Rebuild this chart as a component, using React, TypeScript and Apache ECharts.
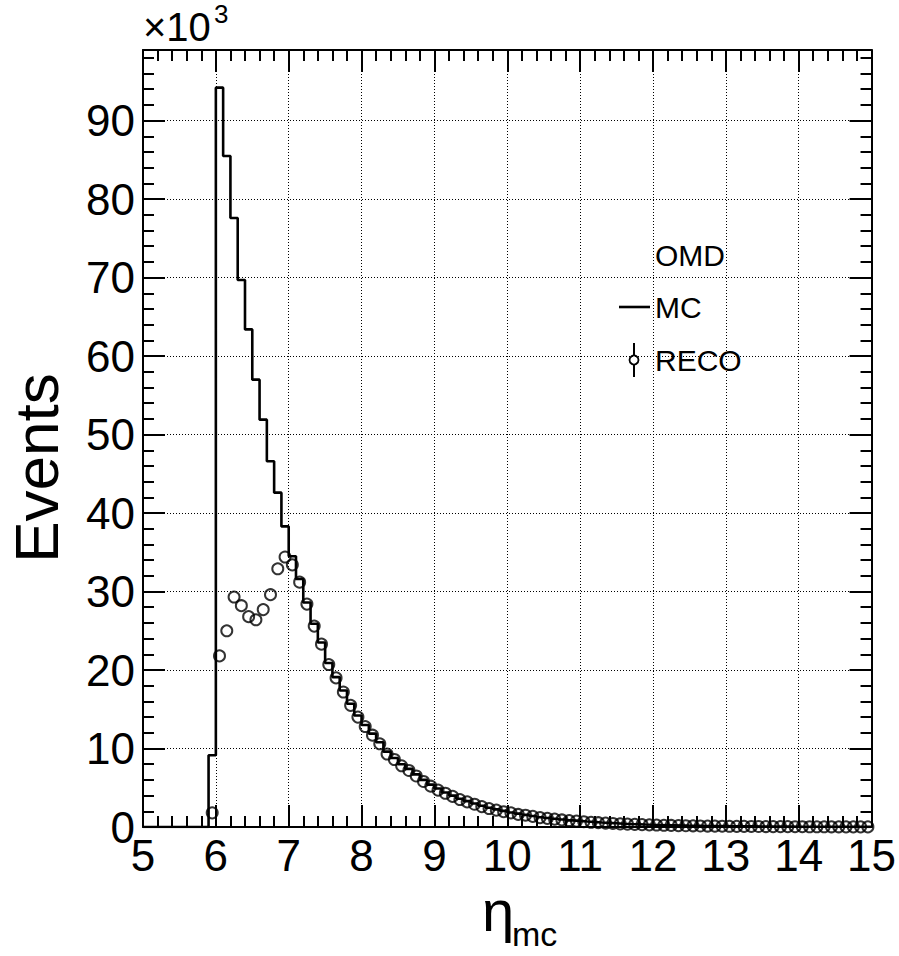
import React, { useEffect, useRef } from "react";
import * as echarts from "echarts";

// Histogram binning (eta_mc), bins of 0.1 starting at 5.9
const binStart = 5.9;
const binWidth = 0.1;

// MC histogram contents (in thousands of events)
const mcCounts = [
  9.15, 94.2, 85.5, 77.6, 69.7, 63.4, 57.0, 51.9, 46.6, 42.6,
  38.3, 34.5, 31.6, 28.6, 25.9, 23.5, 20.9, 19.1, 17.4, 15.7,
  14.2, 13.0, 11.9, 10.8, 9.6, 8.8, 8.0, 7.4, 6.7, 6.0,
  5.4, 4.9, 4.4, 4.0, 3.6, 3.3, 3.0, 2.7, 2.45, 2.25,
  2.05, 1.85, 1.7, 1.55, 1.4, 1.25, 1.15, 1.05, 0.95, 0.85,
  0.78, 0.7, 0.63, 0.57, 0.52, 0.47, 0.42, 0.38, 0.35, 0.31,
  0.28, 0.26, 0.23, 0.21, 0.19, 0.17, 0.16, 0.14, 0.13, 0.12,
  0.11, 0.10, 0.09, 0.08, 0.075, 0.07, 0.06, 0.055, 0.05, 0.045,
  0.04, 0.037, 0.034, 0.031, 0.028, 0.025, 0.023, 0.021, 0.019, 0.017,
  0.015,
];

// RECO histogram contents (in thousands of events)
const recoCounts = [
  1.8, 21.8, 25.0, 29.3, 28.2, 26.8, 26.4, 27.7, 29.6, 32.9,
  34.4, 33.4, 31.2, 28.4, 25.6, 23.3, 20.7, 19.0, 17.2, 15.5,
  14.0, 12.8, 11.7, 10.6, 9.3, 8.6, 7.8, 7.2, 6.5, 5.8,
  5.2, 4.7, 4.3, 3.9, 3.5, 3.2, 2.9, 2.6, 2.35, 2.15,
  1.95, 1.8, 1.6, 1.5, 1.35, 1.2, 1.1, 1.0, 0.9, 0.82,
  0.75, 0.67, 0.6, 0.55, 0.5, 0.45, 0.4, 0.37, 0.33, 0.3,
  0.27, 0.25, 0.22, 0.2, 0.18, 0.16, 0.15, 0.13, 0.12, 0.11,
  0.1, 0.09, 0.085, 0.075, 0.07, 0.065, 0.055, 0.05, 0.045, 0.042,
  0.038, 0.035, 0.032, 0.029, 0.026, 0.024, 0.022, 0.02, 0.018, 0.016,
  0.014,
];

const xMin = 5;
const xMax = 15;
const yMin = 0;
const yMax = 99;
const legendHeader = "OMD";
const legendLabels = ["MC", "RECO"];

const FONT = "'Liberation Sans', Arial, Helvetica, sans-serif";

export default function App() {
  const ref = useRef<HTMLDivElement>(null);

  useEffect(() => {
    if (!ref.current) return;
    const chart = echarts.init(ref.current, null, { renderer: "svg" });

    const round = (v: number) => Math.round(v * 1000) / 1000;
    const mcData: number[][] = [[xMin, 0]];
    mcCounts.forEach((v, i) => mcData.push([round(binStart + i * binWidth), v]));
    mcData.push([round(binStart + mcCounts.length * binWidth), mcCounts[mcCounts.length - 1]]);

    const recoData = recoCounts.map((v, i) => [round(binStart + (i + 0.5) * binWidth), v]);

    const axisLine = { show: true, onZero: false, lineStyle: { color: "#000", width: 2 } };
    const majorTick = { show: true, inside: true, length: 22, lineStyle: { color: "#000", width: 2 } };
    const minorTick = { show: true, splitNumber: 5, length: 11, lineStyle: { color: "#000", width: 2 } };
    const gridLine = { show: true, lineStyle: { color: "#000", width: 1, type: [1, 2] as any } };

    const option: any = {
      animation: false,
      backgroundColor: "#fff",
      grid: { left: 143, right: 26, top: 50, bottom: 129, containLabel: false },
      xAxis: [
        {
          type: "value", min: xMin, max: xMax, interval: 1, position: "bottom",
          axisLine, axisTick: majorTick, minorTick,
          splitLine: gridLine, minorSplitLine: { show: false },
          axisLabel: { show: true, color: "#000", fontSize: 44, fontFamily: FONT, margin: 6 },
        },
        {
          type: "value", min: xMin, max: xMax, interval: 1, position: "top",
          axisLine, axisTick: majorTick, minorTick,
          splitLine: { show: false }, axisLabel: { show: false },
        },
      ],
      yAxis: [
        {
          type: "value", min: yMin, max: yMax, interval: 10, position: "left",
          axisLine, axisTick: majorTick, minorTick,
          splitLine: gridLine, minorSplitLine: { show: false },
          axisLabel: { show: true, color: "#000", fontSize: 44, fontFamily: FONT, margin: 8, showMaxLabel: false },
        },
        {
          type: "value", min: yMin, max: yMax, interval: 10, position: "right",
          axisLine, axisTick: majorTick, minorTick,
          splitLine: { show: false }, axisLabel: { show: false },
        },
      ],
      series: [
        {
          name: legendLabels[0], type: "line", step: "end", data: mcData,
          xAxisIndex: 0, yAxisIndex: 0, showSymbol: false, symbol: "none",
          lineStyle: { color: "#000", width: 2.6 }, z: 2, silent: true,
        },
        {
          name: legendLabels[1], type: "scatter", data: recoData,
          xAxisIndex: 0, yAxisIndex: 0, symbol: "circle", symbolSize: 11,
          itemStyle: { color: "rgba(255,255,255,0)", borderColor: "#000", borderWidth: 2 },
          z: 3, silent: true,
        },
      ],
      graphic: [
        { type: "text", x: 143, y: 47, style: { text: "×10", font: `40px ${FONT}`, fill: "#000", verticalAlign: "bottom" } },
        { type: "text", x: 214, y: 1, style: { text: "3", font: `26px ${FONT}`, fill: "#000", verticalAlign: "top" } },
        {
          type: "text", x: 36, y: 468, rotation: Math.PI / 2,
          style: { text: "Events", font: `62px ${FONT}`, fill: "#000", align: "center", verticalAlign: "middle" },
        },
        { type: "text", x: 498, y: 910, style: { text: "η", font: `58px ${FONT}`, fill: "#000", align: "center", verticalAlign: "middle" } },
        { type: "text", x: 512, y: 934, style: { text: "mc", font: `34px ${FONT}`, fill: "#000", align: "left", verticalAlign: "middle" } },
        { type: "text", x: 655, y: 255, style: { text: legendHeader, font: `30px ${FONT}`, fill: "#000", verticalAlign: "middle" } },
        { type: "line", shape: { x1: 619, y1: 307, x2: 650, y2: 307 }, style: { stroke: "#000", lineWidth: 2.6 } },
        { type: "text", x: 655, y: 307, style: { text: legendLabels[0], font: `30px ${FONT}`, fill: "#000", verticalAlign: "middle" } },
        { type: "line", shape: { x1: 634, y1: 343, x2: 634, y2: 377 }, style: { stroke: "#000", lineWidth: 2 } },
        { type: "circle", shape: { cx: 634, cy: 360, r: 4.5 }, style: { fill: "#fff", stroke: "#000", lineWidth: 1.8 } },
        { type: "text", x: 655, y: 360, style: { text: legendLabels[1], font: `30px ${FONT}`, fill: "#000", verticalAlign: "middle" } },
      ],
    };

    chart.setOption(option);
    return () => chart.dispose();
  }, []);

  return (
    <div
      ref={ref}
      style={{ position: "fixed", left: 0, top: 0, width: 899, height: 956, background: "#fff" }}
    />
  );
}
